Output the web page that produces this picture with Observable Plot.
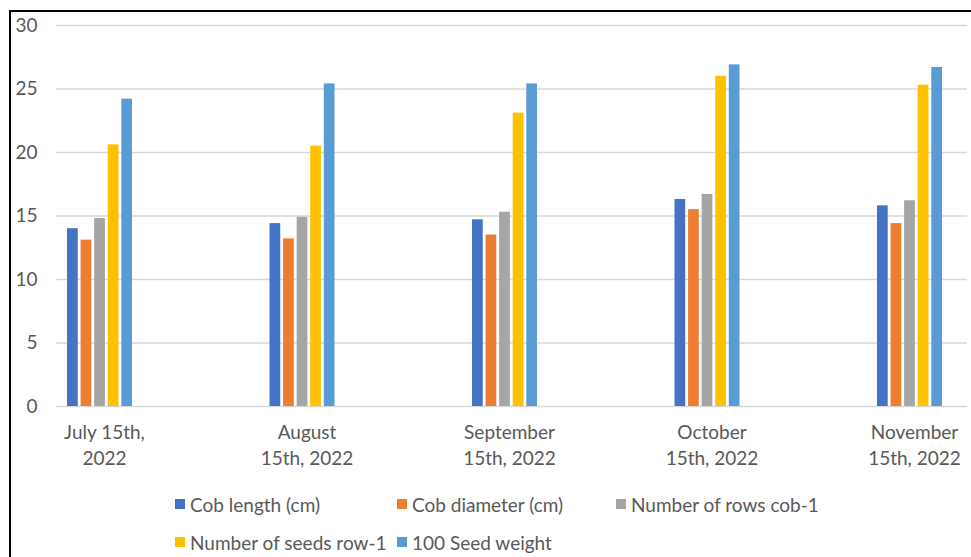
<!DOCTYPE html>
<html>
<head>
<meta charset="utf-8">
<script src="https://cdn.jsdelivr.net/npm/d3@7"></script>
<script src="https://cdn.jsdelivr.net/npm/@observablehq/plot@0.6"></script>
<style>
  html, body { margin: 0; padding: 0; background: #fff; overflow: hidden; }
  #page { position: relative; width: 971px; height: 557px; overflow: hidden; font-family: Lato, "Open Sans", sans-serif; color: #595959; }
  #frame { position: absolute; left: 9px; top: 10px; width: 1100px; height: 700px; border: 2px solid #000; box-sizing: border-box; }
  .layer { position: absolute; left: 0; top: 0; }
  #legend { position: absolute; left: 175px; top: 485px; display: grid; grid-template-columns: 222px 219px auto; grid-auto-rows: 38px; font-size: 19px; }
  .item { display: flex; align-items: center; white-space: nowrap; }
  .swatch { width: 10px; height: 10px; margin-right: 5px; flex: none; }
</style>
</head>
<body>
<div id="page">
  <div id="frame"></div>
  <div id="grid" class="layer"></div>
  <div id="bars" class="layer"></div>
  <div id="legend"></div>
</div>
<script>
// Sampling dates (categories) and their two-line axis labels
const dates = ["July 15th, 2022", "August 15th, 2022", "September 15th, 2022", "October 15th, 2022", "November 15th, 2022"];
const dateLabels = ["July 15th,\n2022", "August\n15th, 2022", "September\n15th, 2022", "October\n15th, 2022", "November\n15th, 2022"];

// Measured traits (series) and their colours
const seriesNames = ["Cob length (cm)", "Cob diameter (cm)", "Number of rows cob-1", "Number of seeds row-1", "100 Seed weight"];
const seriesColors = ["#4472C4", "#ED7D31", "#A5A5A5", "#FFC000", "#5B9BD5"];

// Values per trait, one per sampling date
const cobLength   = [14.0, 14.4, 14.7, 16.3, 15.8];
const cobDiameter = [13.1, 13.2, 13.5, 15.5, 14.4];
const rowsPerCob  = [14.8, 14.9, 15.3, 16.7, 16.2];
const seedsPerRow = [20.6, 20.5, 23.1, 26.0, 25.3];
const seedWeight  = [24.2, 25.4, 25.4, 26.9, 26.7];

// Y axis ticks
const yTicks = [0, 5, 10, 15, 20, 25, 30];

const seriesValues = [cobLength, cobDiameter, rowsPerCob, seedsPerRow, seedWeight];
const rows = [];
dates.forEach((date, i) => {
  seriesNames.forEach((name, j) => {
    rows.push({date, series: name, value: seriesValues[j][i]});
  });
});
const labelOf = new Map(dates.map((d, i) => [d, dateLabels[i]]));

// Shared frame geometry so the two layers line up
const frame = {
  width: 971,
  height: 480,
  marginLeft: 56,
  marginRight: 4,
  marginTop: 25,
  marginBottom: 74,
  style: {fontFamily: "Lato, 'Open Sans', sans-serif", fontSize: "19px", color: "#595959", background: "transparent"}
};

// Background layer: horizontal gridlines and the value axis
const gridChart = Plot.plot({
  ...frame,
  y: {domain: [0, 30], label: null},
  marks: [
    Plot.ruleY(yTicks, {stroke: "#d9d9d9", strokeWidth: 1.4}),
    Plot.axisY({ticks: yTicks, tickSize: 0, tickPadding: 19, label: null, fontSize: 19})
  ]
});
document.getElementById("grid").appendChild(gridChart);

// Foreground layer: clustered bars faceted by date
const barChart = Plot.plot({
  ...frame,
  y: {domain: [0, 30], axis: null},
  fx: {domain: dates, paddingInner: 0.679, paddingOuter: 0.089, align: 0.306, round: false, label: null},
  x: {domain: seriesNames, paddingInner: 0.21, paddingOuter: 0, round: false, axis: null},
  color: {domain: seriesNames, range: seriesColors},
  marks: [
    Plot.barY(rows, {fx: "date", x: "series", y: "value", fill: "series"}),
    Plot.axisFx({anchor: "bottom", tickSize: 0, tickPadding: 14, label: null, fontSize: 19, lineHeight: 1.36, dx: 4.5, tickFormat: d => labelOf.get(d)})
  ]
});
document.getElementById("bars").appendChild(barChart);

// Legend laid out in rows of three
const legend = d3.select("#legend");
seriesNames.forEach((name, i) => {
  const item = legend.append("div").attr("class", "item");
  item.append("span").attr("class", "swatch").style("background", seriesColors[i]);
  item.append("span").text(name);
});
</script>
</body>
</html>
